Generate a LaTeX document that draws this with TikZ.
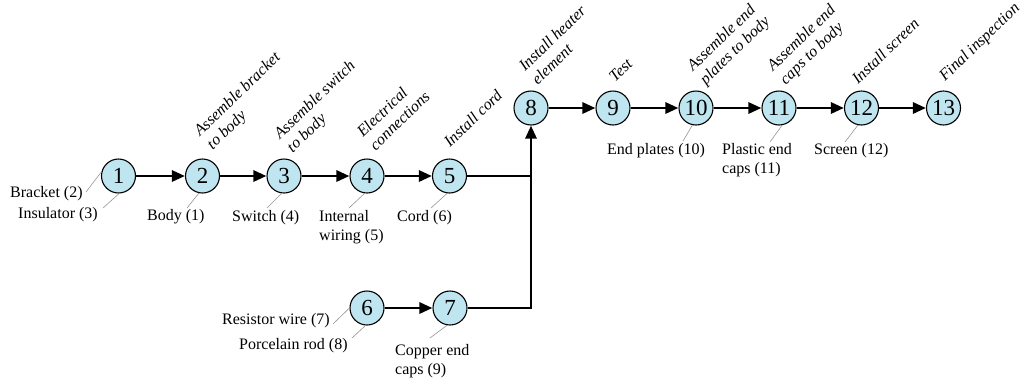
\documentclass[tikz,border=0pt]{standalone}
\usepackage{fontspec}
\setmainfont{Liberation Serif}
\usetikzlibrary{arrows.meta}
\definecolor{nodefill}{RGB}{190,229,240}
\definecolor{leadergray}{RGB}{150,150,150}
\newcommand{\stackL}[2]{\begin{tabular}[t]{@{}l@{}}#1\\#2\end{tabular}}
\begin{document}
\begin{tikzpicture}[x=1pt,y=-1pt,
  ev/.style={circle,draw=black,line width=1.1pt,fill=nodefill,minimum size=34pt,inner sep=0pt,font=\fontsize{23}{23}\selectfont},
  act/.style={anchor=base west,rotate=44,inner sep=0pt,font=\fontsize{16}{18.3}\selectfont\itshape},
  part/.style={anchor=base west,inner sep=0pt,font=\fontsize{16}{19}\selectfont},
  flow/.style={line width=2.8pt,-{Triangle[length=13pt,width=11pt]}},
  feed/.style={line width=1.3pt},
  lead/.style={draw=leadergray,line width=0.6pt}]
\useasboundingbox (0,0) rectangle (1023,381);

% event nodes
\node[ev] (n1) at (118.5,176) {1};
\node[ev] (n2) at (202.5,176) {2};
\node[ev] (n3) at (284,176) {3};
\node[ev] (n4) at (367,176) {4};
\node[ev] (n5) at (449.5,176) {5};
\node[ev] (n6) at (367,308) {6};
\node[ev] (n7) at (450,308) {7};
\node[ev] (n8) at (531,108) {8};
\node[ev] (n9) at (613,108) {9};
\node[ev] (n10) at (696,108) {10};
\node[ev] (n11) at (779,108) {11};
\node[ev] (n12) at (861.5,108) {12};
\node[ev] (n13) at (943.5,108) {13};

% connectors
\draw[flow] (n1) -- (n2);
\draw[flow] (n2) -- (n3);
\draw[flow] (n3) -- (n4);
\draw[flow] (n4) -- (n5);
\draw[flow] (n6) -- (n7);
\draw[flow] (n8) -- (n9);
\draw[flow] (n9) -- (n10);
\draw[flow] (n10) -- (n11);
\draw[flow] (n11) -- (n12);
\draw[flow] (n12) -- (n13);
\coordinate (j1) at (531,176);
\coordinate (j2) at (531,308);
\draw[feed] (n5) -- (j1);
\draw[feed] (n7) -- (j2);
\draw[flow,line cap=rect] (j2) -- (n8);

% activity labels
\node[act] (a2) at (200,137) {\stackL{Assemble bracket}{to body}};
\node[act] (a3) at (280,140) {\stackL{Assemble switch}{to body}};
\node[act] (a4) at (363,138) {\stackL{Electrical}{connections}};
\node[act] (a5) at (450,148) {Install cord};
\node[act] (a8) at (525,72) {\stackL{Install heater}{element}};
\node[act] (a9) at (615,83) {Test};
\node[act] (a10) at (693,72) {\stackL{Assemble end}{plates to body}};
\node[act] (a11) at (773,72) {\stackL{Assemble end}{caps to body}};
\node[act] (a12) at (858,85) {Install screen};
\node[act] (a13) at (945,82) {Final inspection};

% part labels
\node[part] (p2) at (10,197) {Bracket (2)};
\node[part] (p3) at (18,218) {Insulator (3)};
\node[part] (p1) at (147,220) {Body (1)};
\node[part] (p4) at (232,221) {Switch (4)};
\node[part] (p5) at (319,221) {\stackL{Internal}{wiring (5)}};
\node[part] (p6) at (397,221) {Cord (6)};
\node[part] (p10) at (607,154) {End plates (10)};
\node[part] (p11) at (722,154) {\stackL{Plastic end}{caps (11)}};
\node[part] (p12) at (814,154) {Screen (12)};
\node[part] (p7) at (222,324) {Resistor wire (7)};
\node[part] (p8) at (239,349) {Porcelain rod (8)};
\node[part] (p9) at (395,355) {\stackL{Copper end}{caps (9)}};

% leader lines
\coordinate (c2) at (86,192);
\coordinate (c3) at (103,208);
\coordinate (c1) at (187,208);
\coordinate (c4) at (267,208);
\coordinate (c5) at (349,208);
\coordinate (c6) at (431,208);
\coordinate (c10) at (683,141);
\coordinate (c11) at (770,142);
\coordinate (c12) at (845,142);
\coordinate (c7) at (333,324);
\coordinate (c8) at (352,338);
\coordinate (c9) at (430,338);
\draw[lead] (c2) -- (n1.166);
\draw[lead] (c3) -- (n1.272);
\draw[lead] (c1) -- (n2.258);
\draw[lead] (c4) -- (n3.262);
\draw[lead] (c5) -- (n4.262);
\draw[lead] (c6) -- (n5.262);
\draw[lead] (c10) -- (n10.258);
\draw[lead] (c11) -- (n11.280);
\draw[lead] (c12) -- (n12.258);
\draw[lead] (c7) -- (n6.180);
\draw[lead] (c8) -- (n6.265);
\draw[lead] (c9) -- (n7.260);
\end{tikzpicture}
\end{document}
